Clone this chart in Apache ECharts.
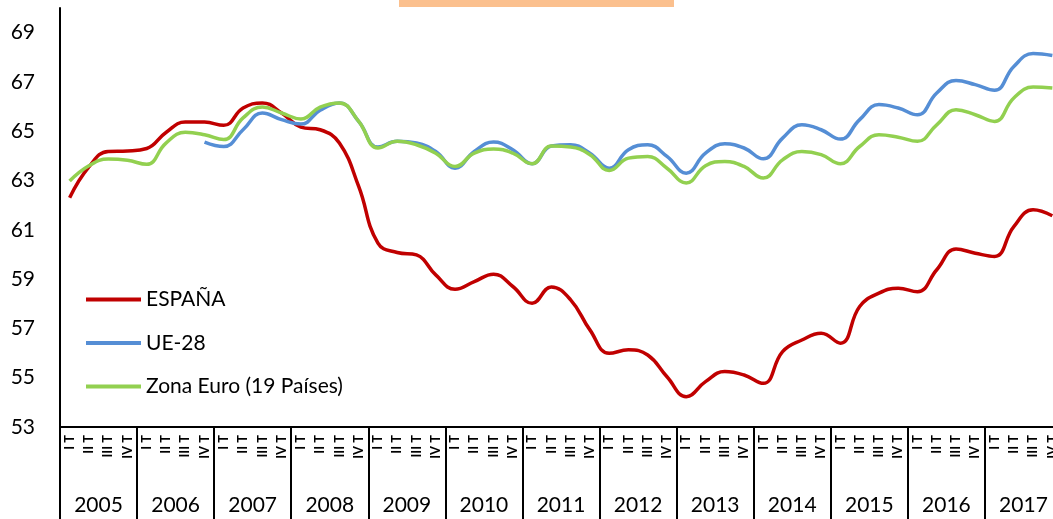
<!DOCTYPE html>
<html lang="es">
<head>
    <meta charset="UTF-8">
    <title>Tasa de empleo</title>
    <script type="text/javascript" src="https://cdn.jsdelivr.net/npm/echarts@6/dist/echarts.min.js"></script>
    <style>
        body {
            margin: 0;
            background: #fff;
        }
    </style>
</head>
<body>
<div id="chart" style="width:1053px;height:519px;"></div>
<script>
    var years = ['2005', '2006', '2007', '2008', '2009', '2010', '2011', '2012', '2013', '2014', '2015', '2016', '2017'];
    var quarterNames = ['I T', 'II T', 'III T', 'IV T'];

    var espana = [62.30, 63.55, 64.18, 64.20, 64.30, 64.95, 65.37, 65.37,
        65.24, 65.94, 66.15, 65.74, 65.17, 65.06, 64.52, 62.76,
        60.46, 60.08, 59.98, 59.17, 58.59, 58.90, 59.20, 58.70,
        58.02, 58.68, 58.16, 56.94, 55.99, 56.13, 55.92, 55.04,
        54.23, 54.84, 55.25, 55.11, 54.77, 56.06, 56.53, 56.80,
        56.40, 57.89, 58.43, 58.63, 58.49, 59.38, 60.22, 60.05,
        59.92, 61.13, 61.81, 61.57];

    var ue28 = [null, null, null, null, null, null, null, 64.56,
        64.38, 65.06, 65.74, 65.47, 65.29, 65.85, 66.15, 65.40,
        64.36, 64.59, 64.52, 64.18, 63.50, 64.18, 64.56, 64.25,
        63.68, 64.40, 64.45, 64.11, 63.50, 64.25, 64.45, 63.98,
        63.30, 64.11, 64.49, 64.32, 63.88, 64.72, 65.26, 65.06,
        64.68, 65.47, 66.08, 65.94, 65.67, 66.55, 67.06, 66.89,
        66.66, 67.63, 68.15, 68.07];

    var zonaEuro = [62.98, 63.60, 63.87, 63.82, 63.66, 64.52, 64.96, 64.86,
        64.66, 65.54, 65.98, 65.74, 65.50, 65.98, 66.15, 65.40,
        64.32, 64.59, 64.45, 64.11, 63.57, 64.11, 64.28, 64.11,
        63.68, 64.40, 64.36, 64.05, 63.41, 63.91, 63.98, 63.50,
        62.90, 63.60, 63.77, 63.57, 63.10, 63.84, 64.18, 64.05,
        63.68, 64.38, 64.86, 64.76, 64.59, 65.26, 65.87, 65.67,
        65.40, 66.35, 66.79, 66.75];

    var quarters = [];
    for (var y = 0; y < years.length; y++) {
        for (var q = 0; q < 4; q++) {
            quarters.push(quarterNames[q]);
        }
    }

    var font = 'Lato, "Open Sans", sans-serif';

    function makeLine(name, data, color) {
        return {
            name: name,
            type: 'line',
            data: data,
            xAxisIndex: 0,
            smooth: 0.45,
            symbol: 'none',
            lineStyle: {color: color, width: 3.5},
            itemStyle: {color: color}
        };
    }

    var chart = echarts.init(document.getElementById('chart'));
    var option = {
        animation: false,
        backgroundColor: '#fff',
        textStyle: {fontFamily: font, color: '#000'},
        graphic: [{
            type: 'rect',
            left: 399,
            top: 0,
            shape: {width: 275, height: 7},
            style: {fill: '#FBC08E'}
        }],
        grid: {
            left: 60,
            top: 8,
            width: 1002,
            height: 419,
            containLabel: false,
            outerBoundsMode: 'none'
        },
        legend: {
            orient: 'vertical',
            left: 81,
            top: 284,
            itemWidth: 55,
            itemHeight: 4,
            itemGap: 22.5,
            icon: 'rect',
            textStyle: {fontFamily: font, fontSize: 21, color: '#000'},
            data: ['ESPAÑA', 'UE-28', 'Zona Euro (19 Países)']
        },
        xAxis: [{
            type: 'category',
            data: quarters,
            position: 'bottom',
            axisLine: {show: true, lineStyle: {color: '#000', width: 2}},
            axisTick: {
                show: true,
                length: 95,
                interval: function (index) {
                    return index % 4 === 0;
                },
                lineStyle: {color: '#000', width: 2}
            },
            axisLabel: {
                interval: 0,
                rotate: 90,
                margin: 8,
                fontFamily: font,
                fontSize: 13,
                fontWeight: 'bold',
                color: '#000'
            },
            splitLine: {show: false}
        }, {
            type: 'category',
            data: years,
            position: 'bottom',
            axisLine: {show: false},
            axisTick: {show: false},
            axisLabel: {
                interval: 0,
                margin: 68,
                fontFamily: font,
                fontSize: 21,
                color: '#000'
            },
            splitLine: {show: false}
        }],
        yAxis: {
            type: 'value',
            min: 53,
            max: 70,
            interval: 2,
            axisLine: {show: true, lineStyle: {color: '#000', width: 2}},
            axisTick: {show: false},
            splitLine: {show: false},
            axisLabel: {
                showMaxLabel: false,
                margin: 25,
                fontFamily: font,
                fontSize: 21,
                color: '#000'
            }
        },
        series: [
            makeLine('ESPAÑA', espana, '#C00000'),
            makeLine('UE-28', ue28, '#558ED5'),
            makeLine('Zona Euro (19 Países)', zonaEuro, '#92D050')
        ]
    };
    chart.setOption(option);
</script>
</body>
</html>
